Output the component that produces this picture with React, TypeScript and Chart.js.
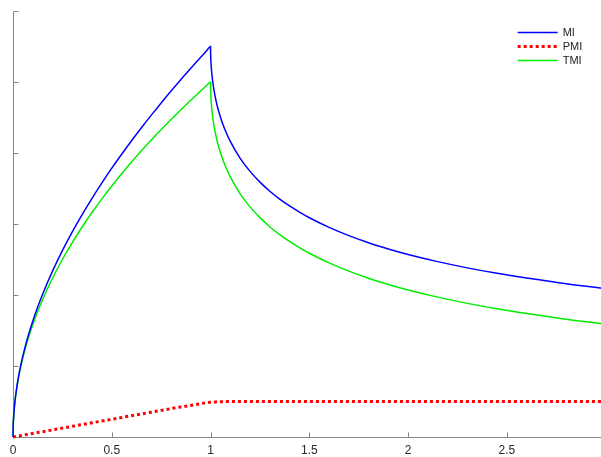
import { useEffect, useRef } from "react";
import { Chart, registerables } from "chart.js";

Chart.register(...registerables);

const xValues = [0, 0.001, 0.002, 0.005, 0.01, 0.02, 0.03, 0.04, 0.06, 0.08, 0.1, 0.125, 0.15, 0.2, 0.25, 0.3, 0.35, 0.4, 0.45, 0.5, 0.55, 0.6, 0.65, 0.7, 0.75, 0.8, 0.85, 0.9, 0.95, 0.98, 1.0, 1.0001, 1.0005, 1.001, 1.002, 1.005, 1.01, 1.02, 1.03, 1.04, 1.06, 1.08, 1.1, 1.15, 1.2, 1.25, 1.3, 1.35, 1.4, 1.45, 1.5, 1.6, 1.7, 1.8, 1.9, 2.0, 2.15, 2.3, 2.45, 2.6, 2.8, 3.0];
const miValues = [0, 0.159, 0.225, 0.357, 0.505, 0.717, 0.881, 1.02, 1.255, 1.454, 1.631, 1.831, 2.011, 2.336, 2.625, 2.889, 3.133, 3.362, 3.579, 3.786, 3.983, 4.173, 4.356, 4.533, 4.705, 4.872, 5.035, 5.193, 5.348, 5.44, 5.5, 5.45, 5.389, 5.344, 5.28, 5.159, 5.025, 4.843, 4.708, 4.599, 4.423, 4.282, 4.163, 3.925, 3.741, 3.59, 3.462, 3.351, 3.254, 3.167, 3.088, 2.952, 2.836, 2.736, 2.649, 2.571, 2.47, 2.382, 2.305, 2.238, 2.158, 2.09];
const pmiValues = [0, 0.0005, 0.001, 0.0025, 0.005, 0.01, 0.015, 0.02, 0.03, 0.04, 0.05, 0.0625, 0.075, 0.1, 0.125, 0.15, 0.175, 0.2, 0.225, 0.25, 0.275, 0.3, 0.325, 0.35, 0.375, 0.4, 0.424, 0.445, 0.47, 0.484, 0.49, 0.49, 0.49, 0.49, 0.49, 0.491, 0.492, 0.493, 0.495, 0.496, 0.498, 0.499, 0.5, 0.5, 0.5, 0.5, 0.5, 0.5, 0.5, 0.5, 0.5, 0.5, 0.5, 0.5, 0.5, 0.5, 0.5, 0.5, 0.5, 0.5, 0.5, 0.5];
const tmiValues = [0, 0.158, 0.224, 0.354, 0.5, 0.707, 0.866, 1.0, 1.225, 1.414, 1.581, 1.768, 1.936, 2.236, 2.5, 2.739, 2.958, 3.162, 3.354, 3.536, 3.708, 3.873, 4.031, 4.183, 4.33, 4.472, 4.61, 4.743, 4.873, 4.95, 5.0, 4.95, 4.889, 4.844, 4.78, 4.659, 4.525, 4.343, 4.208, 4.099, 3.923, 3.782, 3.663, 3.425, 3.241, 3.09, 2.962, 2.851, 2.754, 2.667, 2.588, 2.452, 2.336, 2.236, 2.149, 2.071, 1.97, 1.882, 1.805, 1.738, 1.658, 1.59];
const xTickLabels = ["0", "0.5", "1", "1.5", "2", "2.5", "3"];
const seriesLabels = ["MI", "PMI", "TMI"];

const FONT = "'Liberation Sans', Arial, Helvetica, sans-serif";
const AXIS_COLOR = "#858585";

const axesPlugin = {
  id: "innerAxes",
  beforeDatasetsDraw(chart: any) {
    const { ctx, chartArea, scales } = chart;
    const xs = scales.x;
    const ys = scales.y;
    ctx.save();
    ctx.strokeStyle = AXIS_COLOR;
    ctx.lineWidth = 1;
    const left = Math.round(chartArea.left) + 0.5;
    const bottom = Math.round(chartArea.bottom) + 0.5;
    ctx.beginPath();
    ctx.moveTo(left, Math.round(chartArea.top) + 0.5);
    ctx.lineTo(left, bottom);
    ctx.lineTo(chartArea.right + 10, bottom);
    ctx.stroke();
    ctx.beginPath();
    xs.ticks.forEach((t: any) => {
      const px = Math.round(xs.getPixelForValue(t.value)) + 0.5;
      ctx.moveTo(px, bottom);
      ctx.lineTo(px, bottom - 5);
    });
    ys.ticks.forEach((t: any) => {
      const py = Math.round(ys.getPixelForValue(t.value)) + 0.5;
      ctx.moveTo(left, py);
      ctx.lineTo(left + 5, py);
    });
    ctx.stroke();
    ctx.restore();
  },
};

const legendPlugin = {
  id: "lineLegend",
  afterDatasetsDraw(chart: any) {
    const { ctx, chartArea } = chart;
    const x0 = chartArea.right - 88;
    const y0 = chartArea.top + 21.5;
    ctx.save();
    chart.data.datasets.forEach((ds: any, i: number) => {
      const y = y0 + i * 14;
      ctx.beginPath();
      ctx.strokeStyle = ds.borderColor;
      ctx.lineWidth = ds.borderWidth;
      ctx.setLineDash(ds.borderDash || []);
      ctx.moveTo(x0, y);
      ctx.lineTo(x0 + 40, y);
      ctx.stroke();
      ctx.setLineDash([]);
      ctx.fillStyle = "#222";
      ctx.font = `11px ${FONT}`;
      ctx.textAlign = "left";
      ctx.textBaseline = "middle";
      ctx.fillText(ds.label, x0 + 45, y + 0.5);
    });
    ctx.restore();
  },
};

export default function App() {
  const ref = useRef<HTMLCanvasElement | null>(null);
  useEffect(() => {
    document.documentElement.style.overflow = "hidden";
    document.body.style.overflow = "hidden";
    const toPts = (ys: number[]) => xValues.map((x, i) => ({ x, y: ys[i] }));
    const chart = new Chart(ref.current as HTMLCanvasElement, {
      type: "line",
      data: {
        datasets: [
          { label: seriesLabels[0], data: toPts(miValues), borderColor: "#0000ff", borderWidth: 1.5, pointRadius: 0, cubicInterpolationMode: "monotone", clip: false, fill: false },
          { label: seriesLabels[1], data: toPts(pmiValues), borderColor: "#ff0000", borderWidth: 3, borderDash: [3, 3], pointRadius: 0, cubicInterpolationMode: "monotone", clip: false, fill: false },
          { label: seriesLabels[2], data: toPts(tmiValues), borderColor: "#00ee00", borderWidth: 1.5, pointRadius: 0, cubicInterpolationMode: "monotone", clip: false, fill: false },
        ],
      },
      options: {
        animation: false,
        responsive: false,
        devicePixelRatio: 1,
        layout: { padding: { left: 13, top: 11, right: 0, bottom: 0 } },
        plugins: { legend: { display: false }, tooltip: { enabled: false } },
        scales: {
          x: {
            type: "linear",
            min: 0,
            max: 3,
            grid: { display: false, drawTicks: false },
            border: { display: false },
            afterFit: (s: any) => {
              s.height = 20;
            },
            ticks: {
              stepSize: 0.5,
              padding: 6,
              color: "#2a2a2a",
              font: { family: FONT, size: 12 },
              maxRotation: 0,
              callback: (_v: any, i: number) => xTickLabels[i],
            },
          },
          y: {
            type: "linear",
            display: false,
            min: 0,
            max: 6,
            ticks: { stepSize: 1 },
          },
        },
      },
      plugins: [axesPlugin, legendPlugin],
    });
    return () => chart.destroy();
  }, []);
  return (
    <div style={{ position: "fixed", left: 0, top: 0, width: 615, height: 457 }}>
      <canvas ref={ref} width={615} height={457} style={{ display: "block" }} />
    </div>
  );
}
